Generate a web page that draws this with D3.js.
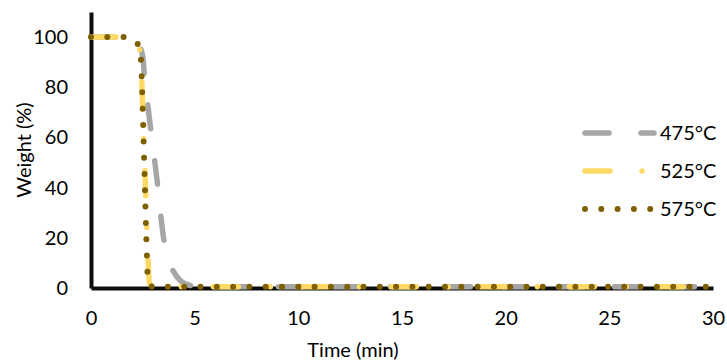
<!DOCTYPE html>
<html><head><meta charset="utf-8">
<script src="https://cdn.jsdelivr.net/npm/d3@7"></script>
<style>body{margin:0;background:#fff}svg{display:block}text{font-family:Lato,"Open Sans",sans-serif;fill:#000}</style>
</head><body><svg id="c" width="727" height="362"></svg>
<script>
const xTicks = [0,5,10,15,20,25,30];
const yTicks = [0,20,40,60,80,100];
const seriesNames = ["475°C","525°C","575°C"];
const t475 = [0,1,2,2.3,2.5,2.6,2.75,2.9,3.05,3.2,3.35,3.5,3.7,3.95,4.3,4.8,5.5,8,12,16,20,25,30];
const w475 = [100,100,99.5,97,92,82,72,62,52,42,30,20,12,7,3,1,0.6,0.5,0.5,0.5,0.5,0.5,0.5];
const t525 = [0,1,2,2.2,2.35,2.45,2.5,2.55,2.62,2.68,2.75,2.82,3,4,8,12,16,20,25,30];
const w525 = [100,100,99.8,99,95,82,70,58,42,28,12,2,0.5,0.5,0.5,0.5,0.5,0.5,0.5,0.5];
const t575 = [0,1,1.6,2.0,2.27,2.41,2.45,2.5,2.55,2.6,2.65,2.7,2.75,3,4,8,12,16,20,25,30];
const w575 = [100,100,100,99,97,91,83,70,55,40,25,12,2,0.5,0.5,0.5,0.5,0.5,0.5,0.5,0.5];

const FS = 20;
const svg = d3.select("#c");
const x = d3.scaleLinear().domain([0,30]).range([91,713]);
const y = d3.scaleLinear().domain([0,110]).range([288,12]);

// axes
const xa = svg.append("g").attr("transform","translate(0,288)")
  .call(d3.axisBottom(x).tickValues(xTicks).tickSize(0).tickPadding(23));
xa.select(".domain").attr("stroke","#0d0d0d").attr("stroke-width",4);
xa.selectAll("text").attr("font-size",FS).style("font-family","Lato,sans-serif").attr("fill","#000");
const ya = svg.append("g").attr("transform","translate(91,0)")
  .call(d3.axisLeft(y).tickValues(yTicks).tickSize(0).tickPadding(23));
ya.select(".domain").attr("stroke","#0d0d0d").attr("stroke-width",4);
ya.selectAll("text").attr("font-size",FS).style("font-family","Lato,sans-serif").attr("fill","#000");

svg.append("text").attr("x",353).attr("y",357).attr("text-anchor","middle").attr("font-size",FS).text("Time (min)");
svg.append("text").attr("transform","translate(31,150) rotate(-90)").attr("text-anchor","middle").attr("font-size",FS).text("Weight (%)");

const styles = [
  {c:"#a6a6a6", w:5.5, d:"24,32"},
  {c:"#ffd966", w:5.5, d:"25,32,0,32"},
  {c:"#7f6000", w:6, d:"0,16.3"}
];
const data = [
  t475.map((t,i)=>[t,w475[i]]),
  t525.map((t,i)=>[t,w525[i]]),
  t575.map((t,i)=>[t,w575[i]])
];
const line = d3.line().x(d=>x(d[0])).y(d=>y(d[1])).curve(d3.curveMonotoneX);
data.forEach((d,i)=>{
  svg.append("path").datum(d).attr("d",line).attr("fill","none")
    .attr("stroke",styles[i].c).attr("stroke-width",styles[i].w)
    .attr("stroke-dasharray",styles[i].d).attr("stroke-linecap","round").attr("stroke-linejoin","round");
});

// legend
const ly = [133,171,209];
seriesNames.forEach((n,i)=>{
  svg.append("line").attr("x1",585).attr("x2",654).attr("y1",ly[i]).attr("y2",ly[i])
    .attr("stroke",styles[i].c).attr("stroke-width",styles[i].w)
    .attr("stroke-dasharray",i===2?"0,16.3":styles[i].d).attr("stroke-linecap","round");
  svg.append("text").attr("x",660).attr("y",ly[i]).attr("dy","0.36em").attr("font-size",FS).text(n);
});
</script></body></html>
